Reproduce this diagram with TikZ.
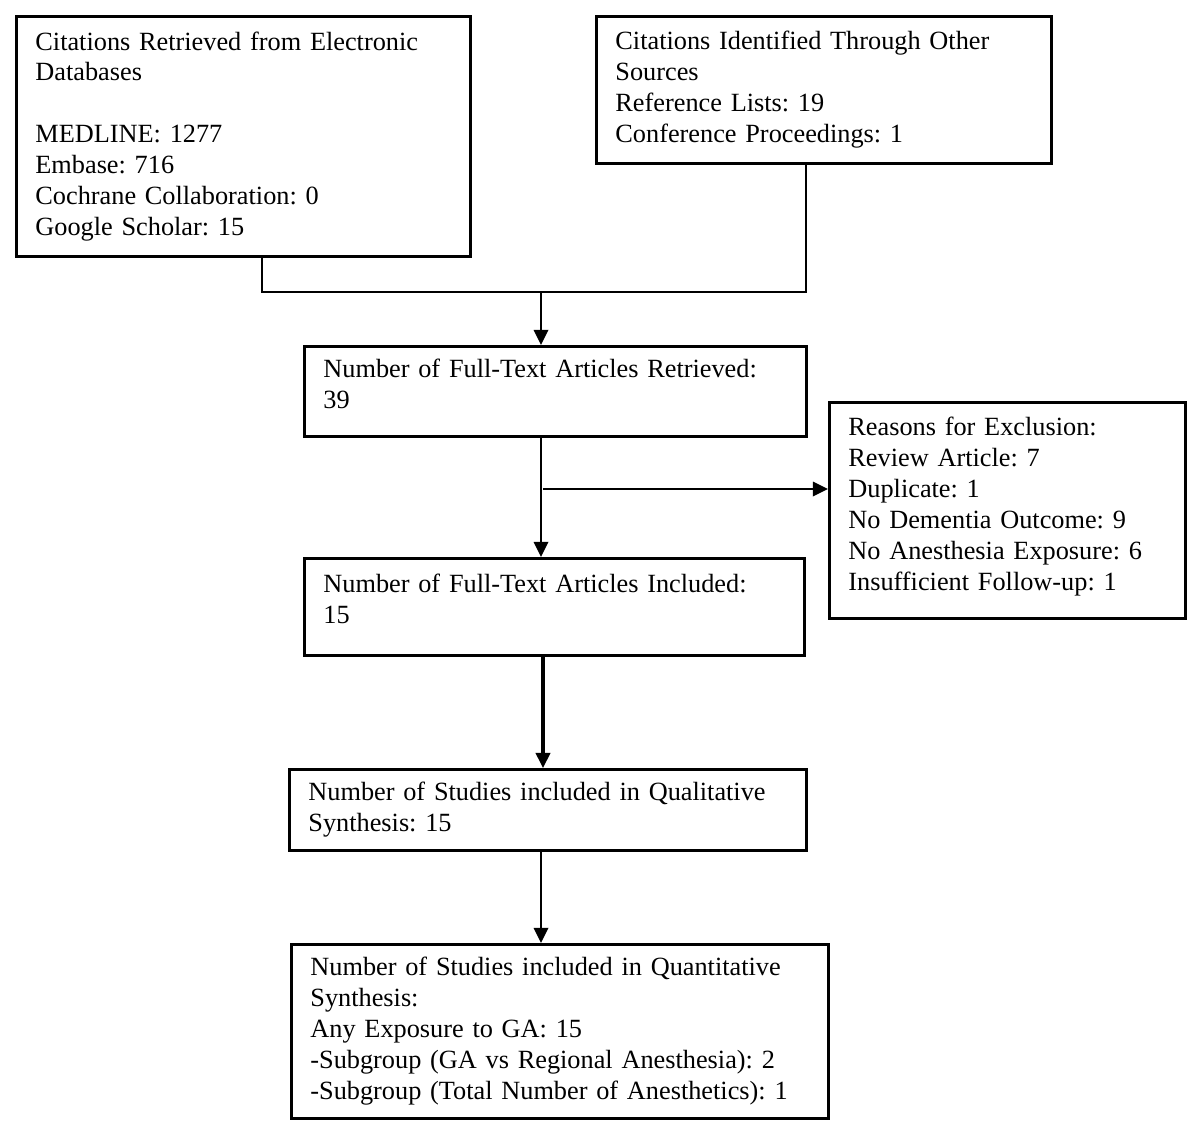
\documentclass[tikz,border=0pt]{standalone}
\usepackage{fontspec}
\setmainfont{Liberation Serif}
\usetikzlibrary{arrows.meta,positioning}
\frenchspacing

\tikzset{
  box/.style={draw, line width=2pt, anchor=north west, align=left,
    inner xsep=0.475cm, inner ysep=0pt, font=\fontsize{18.7}{22}\selectfont},
  link/.style={line width=1.5pt},
  arr/.style={line width=1.5pt, -{Triangle[length=0.38cm,width=0.36cm]}},
}

\begin{document}
\begin{tikzpicture}[x=0.025cm,y=-0.025cm]

    \useasboundingbox (0,0) rectangle (1200,1136);

    % sources
    \node[box, text width=10.4cm, minimum height=6cm] (dbs) at (15,15)
      {Citations Retrieved from Electronic\\ Databases\\[22pt]
       MEDLINE: 1277\\ Embase: 716\\ Cochrane Collaboration: 0\\ Google Scholar: 15};
    \node[box, text width=10.425cm, minimum height=3.675cm] (other) at (595,15)
      {Citations Identified Through Other\\ Sources\\ Reference Lists: 19\\ Conference Proceedings: 1};

    % screening
    \node[box, text width=11.6cm, minimum height=2.25cm, text depth=1.17cm] (retrieved) at (303,345)
      {Number of Full-Text Articles Retrieved:\\ 39};
    \node[box, text width=7.95cm, minimum height=5.4cm, text depth=4.21cm] (excl) at (828,401)
      {Reasons for Exclusion:\\ Review Article: 7\\ Duplicate: 1\\ No Dementia Outcome: 9\\
       No Anesthesia Exposure: 6\\ Insufficient Follow-up: 1};
    \node[box, text width=11.55cm, minimum height=2.425cm, text depth=1.17cm] (included) at (303,557)
      {Number of Full-Text Articles Included:\\ 15};

    % synthesis
    \node[box, text width=11.975cm, minimum height=2.025cm] (quali) at (288,768)
      {Number of Studies included in Qualitative\\ Synthesis: 15};
    \node[box, text width=12.475cm, minimum height=4.35cm] (quanti) at (290,943)
      {Number of Studies included in Quantitative\\ Synthesis:\\ Any Exposure to GA: 15\\
       -Subgroup (GA vs Regional Anesthesia): 2\\ -Subgroup (Total Number of Anesthetics): 1};

    \coordinate (left) at (262,292);
    \coordinate (right) at (806,292);
    \coordinate (join) at (541,292);
    \coordinate (split) at (543,489);

    \draw[link] (dbs.south -| left) -- (left) -- (right) -- (other.south -| right);
    \draw[arr] (join) -- (retrieved.north -| join);
    \draw[arr] (retrieved.south -| join) -- (included.north -| join);
    \draw[arr] (split) -- (excl.west |- split);
    \draw[arr, line width=2.2pt] (included.south -| split) -- (quali.north -| split);
    \draw[arr] (quali.south -| join) -- (quanti.north -| join);

\end{tikzpicture}
\end{document}
